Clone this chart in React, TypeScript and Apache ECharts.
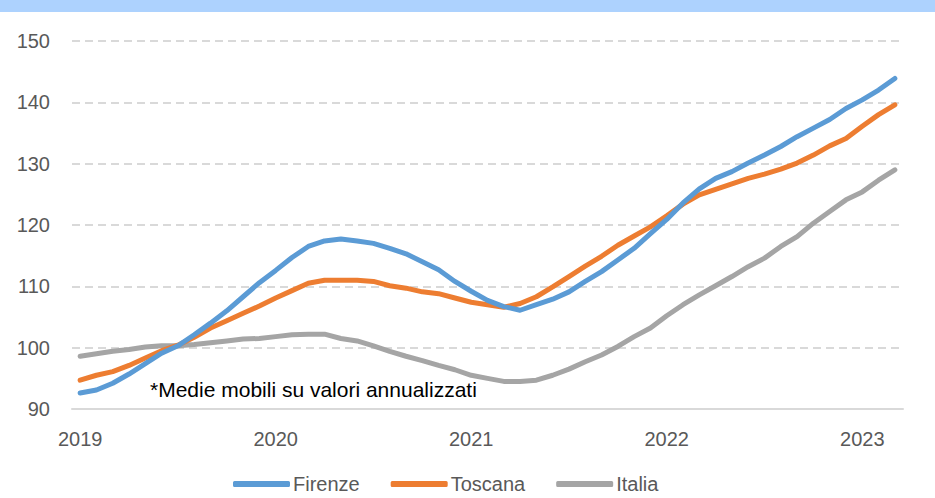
import React, { useEffect, useRef } from "react";
import * as echarts from "echarts";

const years = [2019, 2020, 2021, 2022, 2023];
const months: string[] = [];
for (const y of years) {
  for (let m = 1; m <= 12; m++) {
    if (y === 2023 && m > 3) break;
    months.push(`${y}-${String(m).padStart(2, "0")}`);
  }
}

const firenze = [
  92.6, 93.1, 94.2, 95.7, 97.4, 99.1, 100.3, 102.1, 104.0, 106.0, 108.3, 110.6,
  112.6, 114.7, 116.5, 117.4, 117.7, 117.4, 117.0, 116.2, 115.3, 114.0, 112.7, 110.8,
  109.2, 107.7, 106.7, 106.1, 107.0, 107.9, 109.1, 110.8, 112.4, 114.3, 116.2, 118.6,
  120.9, 123.6, 125.9, 127.6, 128.7, 130.1, 131.4, 132.8, 134.4, 135.8, 137.2, 139.0,
  140.4, 142.0, 143.9,
];
const toscana = [
  94.7, 95.5, 96.1, 97.1, 98.3, 99.5, 100.4, 101.7, 103.2, 104.4, 105.6, 106.8,
  108.1, 109.3, 110.5, 111.0, 111.0, 111.0, 110.8, 110.1, 109.7, 109.1, 108.8, 108.1,
  107.4, 107.0, 106.6, 107.2, 108.3, 109.9, 111.6, 113.3, 114.9, 116.7, 118.2, 119.7,
  121.5, 123.4, 124.9, 125.8, 126.7, 127.6, 128.3, 129.1, 130.1, 131.4, 132.9, 134.1,
  136.1, 138.0, 139.6,
];
const italia = [
  98.6, 99.0, 99.4, 99.7, 100.1, 100.3, 100.3, 100.5, 100.8, 101.1, 101.4, 101.5,
  101.8, 102.1, 102.2, 102.2, 101.5, 101.1, 100.3, 99.4, 98.6, 97.9, 97.1, 96.4,
  95.5, 95.0, 94.5, 94.5, 94.7, 95.5, 96.5, 97.7, 98.8, 100.2, 101.8, 103.2,
  105.2, 107.0, 108.6, 110.1, 111.6, 113.2, 114.6, 116.5, 118.1, 120.3, 122.2, 124.1,
  125.4, 127.3, 129.0,
];

const seriesNames = ["Firenze", "Toscana", "Italia"];
const seriesColors = ["#5B9BD5", "#ED7D31", "#A5A5A5"];
const note = "*Medie mobili su valori annualizzati";

const FONT = "'Liberation Sans', Arial, sans-serif";

export default function App() {
  const ref = useRef<HTMLDivElement>(null);
  useEffect(() => {
    if (!ref.current) return;
    const chart = echarts.init(ref.current, undefined, { renderer: "svg" });
    const data = [firenze, toscana, italia];
    chart.setOption({
      animation: false,
      backgroundColor: "#FFFFFF",
      textStyle: { fontFamily: FONT },
      grid: { left: 72, right: 32, top: 41, bottom: 89, containLabel: false },
      xAxis: {
        type: "category",
        data: months,
        boundaryGap: true,
        axisLine: { show: true, lineStyle: { color: "#D9D9D9", width: 2 } },
        axisTick: { show: false },
        splitLine: { show: false },
        axisLabel: {
          interval: 11,
          margin: 20,
          color: "#595959",
          fontSize: 20,
          fontFamily: FONT,
          formatter: (v: string) => v.slice(0, 4),
        },
      },
      yAxis: {
        type: "value",
        min: 90,
        max: 150,
        interval: 10,
        axisLine: { show: false },
        axisTick: { show: false },
        axisLabel: { color: "#595959", fontSize: 20, fontFamily: FONT, margin: 22 },
        splitLine: { show: true, lineStyle: { color: "#D9D9D9", width: 2, type: [8, 5] } },
      },
      legend: {
        left: 228,
        top: 472,
        padding: [2, 5, 2, 5],
        icon: "roundRect",
        itemWidth: 57,
        itemHeight: 6,
        itemGap: 31,
        textStyle: { color: "#595959", fontSize: 20, fontFamily: FONT, padding: [0, 0, 0, -2] },
        data: seriesNames,
      },
      graphic: [
        { type: "rect", left: 0, top: 0, shape: { x: 0, y: 0, width: 935, height: 12 }, style: { fill: "#ADD2FE" }, z: 10 },
        { type: "text", left: 150, top: 379, style: { text: note, fill: "#000000", font: `21px ${FONT}` }, z: 10 },
      ],
      series: seriesNames.map((name, i) => ({
        name,
        type: "line",
        data: data[i],
        showSymbol: false,
        symbol: "none",
        smooth: false,
        color: seriesColors[i],
        lineStyle: { width: 5, color: seriesColors[i], cap: "round", join: "round" },
        z: 3 - i,
      })),
    });
    return () => chart.dispose();
  }, []);
  return <div ref={ref} style={{ position: "fixed", left: 0, top: 0, width: 935, height: 498 }} />;
}
